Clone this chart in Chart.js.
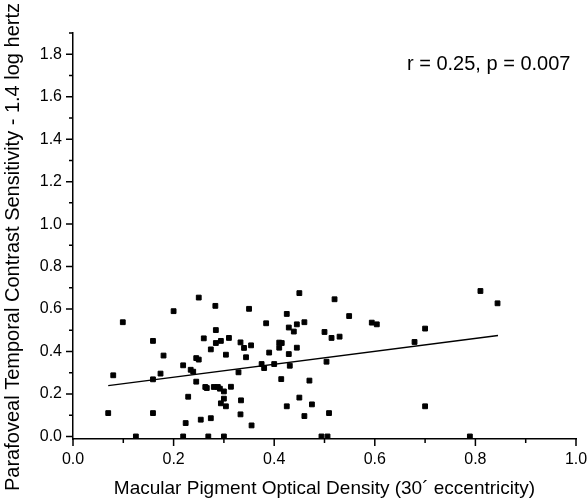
<!DOCTYPE html>
<html>
<head>
<meta charset="utf-8">
<script src="https://cdn.jsdelivr.net/npm/chart.js@4.4.1/dist/chart.umd.min.js"></script>
<style>
  html, body { margin: 0; padding: 0; background: #fff; }
  #wrap { width: 588px; height: 501px; position: relative; }
</style>
</head>
<body>
<div id="wrap"><canvas id="mpodChart"></canvas></div>
<script>
// Macular pigment optical density (x) vs parafoveal TCS (y)
const mpod = [
  0.200, 0.099, 0.159, 0.180, 0.080, 0.174, 0.159, 0.070, 0.159, 0.125,
  0.250, 0.283, 0.350, 0.284, 0.260, 0.284, 0.294, 0.310, 0.274, 0.333,
  0.340, 0.354, 0.304, 0.344, 0.245, 0.250, 0.219, 0.234, 0.239, 0.329,
  0.245, 0.263, 0.266, 0.280, 0.288, 0.292, 0.300, 0.314, 0.229, 0.300,
  0.294, 0.304, 0.334, 0.333, 0.274, 0.254, 0.224, 0.355, 0.219, 0.269,
  0.300, 0.450, 0.425, 0.384, 0.445, 0.460, 0.429, 0.439, 0.500, 0.514,
  0.410, 0.415, 0.410, 0.445, 0.390, 0.429, 0.375, 0.380, 0.400, 0.431,
  0.504, 0.414, 0.470, 0.450, 0.475, 0.425, 0.460, 0.509, 0.494, 0.506,
  0.520, 0.549, 0.594, 0.604, 0.530, 0.810, 0.844, 0.700, 0.679, 0.700,
  0.789
];
const tcs = [
  0.590, 0.538, 0.450, 0.381, 0.288, 0.296, 0.269, 0.110, 0.110, 0.000,
  0.654, 0.615, 0.601, 0.501, 0.462, 0.440, 0.450, 0.464, 0.410, 0.443,
  0.417, 0.429, 0.385, 0.373, 0.369, 0.362, 0.335, 0.314, 0.305, 0.302,
  0.258, 0.233, 0.228, 0.233, 0.233, 0.225, 0.212, 0.234, 0.187, 0.178,
  0.156, 0.142, 0.170, 0.104, 0.086, 0.079, 0.063, 0.052, 0.000, 0.000,
  0.000, 0.675, 0.577, 0.533, 0.528, 0.538, 0.513, 0.494, 0.492, 0.464,
  0.442, 0.440, 0.418, 0.418, 0.395, 0.388, 0.341, 0.322, 0.341, 0.333,
  0.352, 0.270, 0.263, 0.183, 0.151, 0.142, 0.096, 0.110, 0.000, 0.000,
  0.646, 0.567, 0.536, 0.528, 0.470, 0.685, 0.627, 0.508, 0.445, 0.142,
  0.000
];

// linear fit drawn across the data range
const fitSlope = 0.305;
const fitIntercept = 0.218;
const fitRange = [0.07, 0.845];

// axis ticks
const xTicks = [0, 0.1, 0.2, 0.3, 0.4, 0.5, 0.6, 0.7, 0.8, 0.9, 1.0];
const yTicks = [0, 0.1, 0.2, 0.3, 0.4, 0.5, 0.6, 0.7, 0.8, 0.9, 1.0,
                1.1, 1.2, 1.3, 1.4, 1.5, 1.6, 1.7, 1.8, 1.9];

const statsText = "r = 0.25, p = 0.007";
const xTitle = "Macular Pigment Optical Density (30\u00b4 eccentricity)";
const yTitle = "Parafoveal Temporal Contrast Sensitivity - 1.4 log hertz";

const FONT = "'Liberation Sans', Arial, sans-serif";

const isMajor = (v) => Math.abs(Math.round(v * 10) % 2) === 0;

const points = mpod.map((x, i) => ({ x: x, y: tcs[i] }));
const fitLine = fitRange.map((x) => ({ x: x, y: fitIntercept + fitSlope * x }));

// tick marks, titles and the r/p note
const decorations = {
  id: "decorations",
  afterDraw(chart) {
    const { ctx, chartArea, scales } = chart;
    const xs = scales.x, ys = scales.y;
    ctx.save();
    ctx.strokeStyle = "#000";
    ctx.lineWidth = 1.5;
    ctx.beginPath();
    xTicks.forEach((v) => {
      const px = xs.getPixelForValue(v);
      const len = isMajor(v) ? 7 : 4;
      ctx.moveTo(px, chartArea.bottom);
      ctx.lineTo(px, chartArea.bottom + len);
    });
    yTicks.forEach((v) => {
      const py = ys.getPixelForValue(v);
      const len = isMajor(v) ? 7 : 4;
      ctx.moveTo(chartArea.left, py);
      ctx.lineTo(chartArea.left - len, py);
    });
    ctx.stroke();

    ctx.fillStyle = "#000";
    ctx.font = "19px " + FONT;
    ctx.textAlign = "center";
    ctx.textBaseline = "alphabetic";
    ctx.fillText(xTitle, (chartArea.left + chartArea.right) / 2, 494);

    ctx.save();
    ctx.font = "20px " + FONT;
    ctx.translate(19, 247);
    ctx.rotate(-Math.PI / 2);
    ctx.fillText(yTitle, 0, 0);
    ctx.restore();

    ctx.font = "20px " + FONT;
    ctx.textAlign = "left";
    ctx.fillText(statsText, xs.getPixelForValue(0.664), ys.getPixelForValue(1.726));
    ctx.restore();
  },
};

const ctx = document.getElementById("mpodChart").getContext("2d");

new Chart(ctx, {
  type: "scatter",
  data: {
    datasets: [
      {
        label: "Subjects",
        data: points,
        pointStyle: "rect",
        pointRadius: 3.4,
        pointBorderWidth: 1,
        backgroundColor: "#000",
        borderColor: "#000",
      },
      {
        type: "line",
        label: "Fit",
        data: fitLine,
        borderColor: "#000",
        borderWidth: 1.5,
        pointRadius: 0,
        fill: false,
        tension: 0,
      },
    ],
  },
  options: {
    responsive: true,
    maintainAspectRatio: false,
    animation: false,
    layout: { padding: { top: 33, right: 12, left: 0, bottom: 0 } },
    plugins: {
      legend: { display: false },
      tooltip: { enabled: false },
    },
    scales: {
      x: {
        type: "linear",
        min: 0,
        max: 1.0,
        grid: { display: false, drawTicks: false },
        border: { display: true, color: "#000", width: 1.5 },
        afterBuildTicks: (scale) => {
          scale.ticks = xTicks.map((v) => ({ value: v }));
        },
        afterFit: (scale) => {
          scale.height = 62;
          scale.paddingLeft = 0;
          scale.paddingRight = 0;
        },
        ticks: {
          autoSkip: false,
          maxRotation: 0,
          padding: 11,
          color: "#000",
          font: { family: FONT, size: 16 },
          callback: (v) => (isMajor(v) ? v.toFixed(1) : ""),
        },
      },
      y: {
        type: "linear",
        min: -0.012,
        max: 1.9,
        grid: { display: false, drawTicks: false },
        border: { display: true, color: "#000", width: 1.5 },
        afterBuildTicks: (scale) => {
          scale.ticks = yTicks.map((v) => ({ value: v }));
        },
        afterFit: (scale) => {
          scale.width = 73;
          scale.paddingTop = 0;
          scale.paddingBottom = 0;
        },
        ticks: {
          autoSkip: false,
          padding: 11,
          color: "#000",
          font: { family: FONT, size: 16 },
          callback: (v) => (isMajor(v) ? v.toFixed(1) : ""),
        },
      },
    },
  },
  plugins: [decorations],
});
</script>
</body>
</html>
